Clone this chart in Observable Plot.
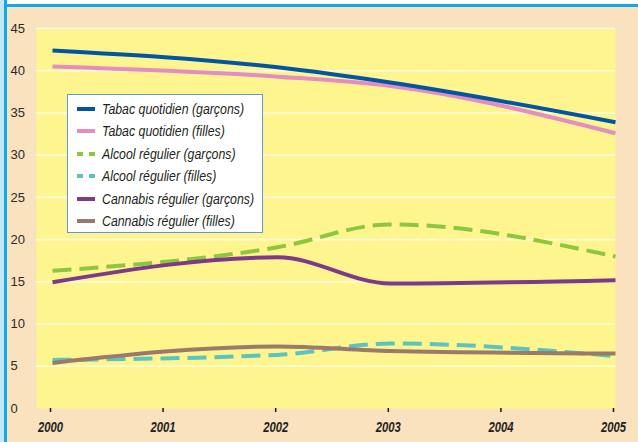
<!DOCTYPE html>
<html>
<head>
<meta charset="utf-8">
<script src="https://cdn.jsdelivr.net/npm/d3@7"></script>
<script src="https://cdn.jsdelivr.net/npm/@observablehq/plot@0.6"></script>
<style>
  html, body { margin: 0; padding: 0; background: #FBE2BE; }
  #wrap { position: relative; width: 638px; height: 442px; background: #FBE2BE; overflow: hidden; }
  .deco { position: absolute; }
  #legend {
    position: absolute; left: 67px; top: 94px; width: 196px; height: 139px;
    background: #fff; border: 1.5px solid #5C9BD1; box-sizing: border-box;
    font-family: "Liberation Sans", Arial, sans-serif;
    font-style: italic; font-size: 14px; color: #231F20;
  }
  .row { position: absolute; left: 0; height: 20px; display: flex; align-items: center; white-space: nowrap; }
  .row svg { margin-left: 9px; margin-right: 7px; flex: none; }
  .row span { display: inline-block; transform: scaleX(0.88); transform-origin: left center; }
</style>
</head>
<body>
<div id="wrap">
  <div class="deco" style="left:0;top:0;width:638px;height:4px;background:#ffffff"></div>
  <div class="deco" style="left:0;top:4px;width:638px;height:3px;background:#12A9E8"></div>
  <div class="deco" style="left:0;top:0;width:4px;height:442px;background:#C3E8F8"></div>
  <div class="deco" style="left:4px;top:0;width:3px;height:442px;background:#12A9E8"></div>
  <div id="chart" style="position:absolute;left:0;top:0"></div>
  <div id="legend"></div>
</div>
<script>
const years = [2000, 2002, 2003, 2005];
const tabacGarcons    = [42.4, 40.4, 38.6, 33.9];
const tabacFilles     = [40.5, 39.3, 38.2, 32.6];
const alcoolGarcons   = [16.3, 19.1, 21.8, 18.0];
const alcoolFilles    = [5.75, 6.35, 7.7, 6.2];
const cannabisGarcons = [14.95, 17.9, 14.8, 15.2];
const cannabisFilles  = [5.4, 7.35, 6.8, 6.5];

const seriesNames = [
  "Tabac quotidien (garçons)",
  "Tabac quotidien (filles)",
  "Alcool régulier (garçons)",
  "Alcool régulier (filles)",
  "Cannabis régulier (garçons)",
  "Cannabis régulier (filles)"
];
const seriesValues = [tabacGarcons, tabacFilles, alcoolGarcons, alcoolFilles, cannabisGarcons, cannabisFilles];
const seriesColors = ["#0055A5", "#E38DC2", "#8DC63F", "#5BC4C0", "#7D3A8A", "#9B7A6B"];
const seriesDashed = [false, false, true, true, false, false];

const xTicks = [2000, 2001, 2002, 2003, 2004, 2005];
const yTicks = [0, 5, 10, 15, 20, 25, 30, 35, 40, 45];

// draw order: pink under blue, teal under brown
const drawOrder = [1, 0, 2, 4, 3, 5];

const lineMarks = drawOrder.map(i => {
  const data = years.map((yr, j) => ({year: yr, value: seriesValues[i][j]}));
  return Plot.line(data, {
    x: "year", y: "value",
    stroke: seriesColors[i],
    strokeWidth: 4,
    strokeDasharray: seriesDashed[i] ? "19,8" : null,
    strokeLinecap: "butt",
    curve: "monotone-x"
  });
});

const chart = Plot.plot({
  width: 638,
  height: 442,
  marginLeft: 36,
  marginRight: 23,
  marginTop: 28,
  marginBottom: 34,
  style: {background: "transparent", overflow: "visible"},
  x: {domain: [2000, 2005], insetLeft: 16, label: null},
  y: {domain: [0, 45], label: null},
  marks: [
    Plot.frame({fill: "#FFF58F", stroke: null}),
    Plot.gridY(yTicks.filter(d => d > 0), {stroke: "#FFFBDD", strokeOpacity: 1, strokeWidth: 1.6}),
    Plot.axisY(yTicks, {
      tickSize: 0, tickPadding: 26, textAnchor: "start",
      fontSize: 13, fill: "#2A2A2A", label: null,
      fontFamily: "Liberation Sans, Arial, sans-serif"
    }),
    Plot.axisX(xTicks, {
      tickSize: 4, tickPadding: 10, stroke: "#222", strokeWidth: 1.6,
      tickFormat: d => String(d), label: null,
      fontSize: 14, fontStyle: "italic", fontWeight: "bold", fill: "#231F20",
      fontFamily: "Liberation Sans, Arial, sans-serif",
      dx: -2
    }),
    ...lineMarks
  ]
});
// condense the x tick labels to match the narrow typeface of the original
chart.querySelectorAll('g[aria-label="x-axis tick label"] text').forEach(t => {
  t.setAttribute("textLength", "25");
  t.setAttribute("lengthAdjust", "spacingAndGlyphs");
});
document.getElementById("chart").appendChild(chart);

// legend
const legend = document.getElementById("legend");
const rowTops = [4, 26, 48.5, 71, 93.5, 116];
seriesNames.forEach((name, i) => {
  const row = document.createElement("div");
  row.className = "row";
  row.style.top = rowTops[i] + "px";
  const sw = seriesDashed[i]
    ? `<svg width="18" height="6"><line x1="0" y1="3" x2="18" y2="3" stroke="${seriesColors[i]}" stroke-width="4" stroke-dasharray="6,6"/></svg>`
    : `<svg width="18" height="6"><line x1="0" y1="3" x2="18" y2="3" stroke="${seriesColors[i]}" stroke-width="4"/></svg>`;
  row.innerHTML = sw + `<span>${name}</span>`;
  legend.appendChild(row);
});
</script>
</body>
</html>
